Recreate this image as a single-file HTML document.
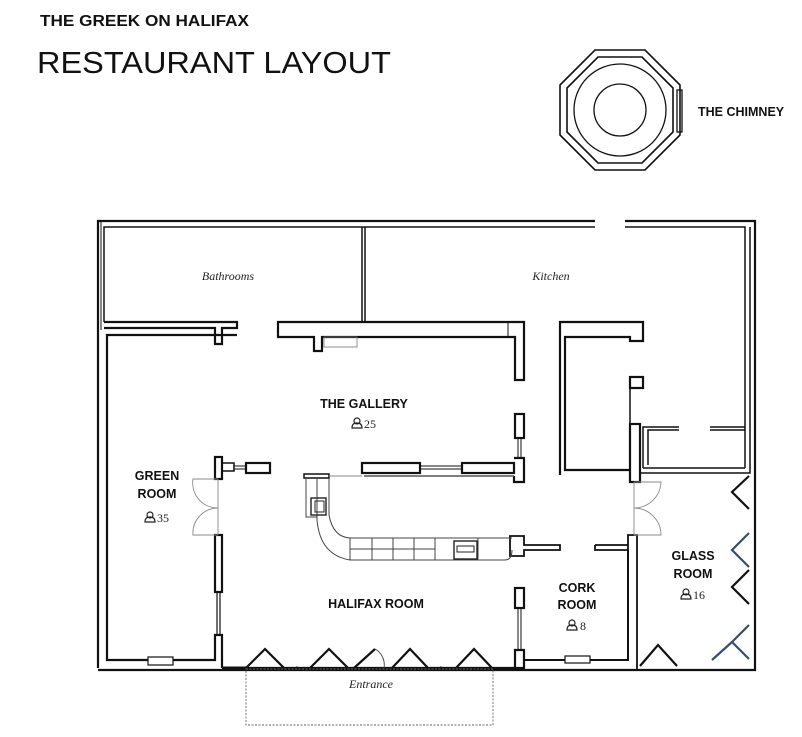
<!DOCTYPE html>
<html><head><meta charset="utf-8"><style>
html,body{margin:0;padding:0;background:#fff;width:802px;height:737px;overflow:hidden}
svg{display:block}
.b{font-family:"Liberation Sans",sans-serif;font-weight:bold;fill:#111}
.i{font-family:"Liberation Serif",serif;font-style:italic;fill:#222;font-size:12px}
.n{font-family:"Liberation Serif",serif;fill:#222;font-size:12px}
</style></head><body>
<svg width="802" height="737" viewBox="0 0 802 737" xmlns="http://www.w3.org/2000/svg">
<defs>
<g id="p"><circle cx="0" cy="-3" r="3" fill="none" stroke="#222" stroke-width="1.2"/><path d="M-5,4 Q-5,-1 0,-1 Q5,-1 5,4 Z" fill="none" stroke="#222" stroke-width="1.2"/></g>
</defs>
<text x="40" y="26" class="b" font-size="15.5" textLength="209" lengthAdjust="spacingAndGlyphs">THE GREEK ON HALIFAX</text>
<text x="37" y="73" font-family="Liberation Sans,sans-serif" font-size="31" fill="#111" textLength="354" lengthAdjust="spacingAndGlyphs">RESTAURANT LAYOUT</text>

<!-- chimney -->
<g fill="none" stroke="#111" stroke-width="1.6">
<polygon points="595,50 645,50 680,85 680,135 645,170 595,170 560,135 560,85"/>
<polygon points="598,57 642,57 673,88 673,132 642,163 598,163 567,132 567,88"/>
<circle cx="620" cy="110" r="46" stroke-width="1.3"/>
<circle cx="620" cy="110" r="26" stroke-width="1.3"/>
<rect x="677" y="90" width="5" height="42" stroke-width="1.3"/>
</g>
<text x="698" y="116" class="b" font-size="12.5">THE CHIMNEY</text>

<g fill="none" stroke="#111" stroke-width="2.2">
<!-- outer -->
<path d="M98,668 V221 H595"/>
<path d="M625,221 H755 V670 H98"/>
<path d="M104,322 V227 H595" stroke-width="1.5"/>
<path d="M625,227 H745 V468" stroke-width="1.5"/>
<line x1="101" y1="222" x2="101" y2="330" stroke-width="1"/>
<!-- bathroom partition -->
<line x1="362" y1="227" x2="362" y2="322" stroke-width="1.5"/>
<line x1="365" y1="227" x2="365" y2="322" stroke-width="1.5"/>
<!-- bathroom bottom wall -->
<path d="M104,322 H237 V328 H222 V344 H215 V328 H104"/>
<!-- gallery top wall -->
<path d="M278,322 H524 V380 H515 V337 H322 V351 H314 V337 H278 Z"/>
<line x1="508" y1="322" x2="508" y2="337" stroke-width="1"/>
<rect x="324" y="337" width="33" height="10" stroke-width="0.8" stroke="#777"/>
<!-- left room inner -->
<path d="M237,335 H107 V660 H148 M173,660 H215 V635 H222 V668"/>
<rect x="148" y="657" width="25" height="8" stroke-width="1.2"/>
<!-- green room right -->
<rect x="215" y="457" width="7" height="22"/>
<rect x="222" y="463" width="12" height="8" stroke-width="1.5"/>
<rect x="246" y="463" width="24" height="10"/>
<line x1="234" y1="466" x2="246" y2="466" stroke-width="1"/><line x1="234" y1="469" x2="246" y2="469" stroke-width="1"/>
<rect x="215" y="535" width="7" height="57"/>
<line x1="217" y1="592" x2="217" y2="635" stroke-width="1.2"/><line x1="220" y1="592" x2="220" y2="635" stroke-width="1.2"/>
<!-- bar top windows -->
<rect x="362" y="463" width="58" height="10"/>
<rect x="462" y="463" width="52" height="10"/>
<line x1="420" y1="466" x2="462" y2="466" stroke-width="1"/><line x1="420" y1="469" x2="462" y2="469" stroke-width="1"/>
<path d="M514,458 H524 V482 H514 V476"/>
<rect x="515" y="414" width="9" height="24"/>
<line x1="518" y1="438" x2="518" y2="458" stroke-width="1"/><line x1="521" y1="438" x2="521" y2="458" stroke-width="1"/>
<rect x="304" y="474" width="25" height="4" stroke-width="1.5"/>
<!-- right of bar -->
<path d="M510,536 H524 V545 H560 V550 H524 V556 H510 Z" stroke-width="1.8"/>
<path d="M595,545 H628 V535 H637 V670 M628,545 V550 M595,545 V550 H628" stroke-width="1.8"/>
<path d="M628,550 V660 H590 M565,660 H524 V650" stroke-width="2"/>
<rect x="565" y="656" width="25" height="7" stroke-width="1.2"/>
<rect x="515" y="588" width="9" height="20"/>
<line x1="518" y1="608" x2="518" y2="650" stroke-width="1"/><line x1="521" y1="608" x2="521" y2="650" stroke-width="1"/>
<path d="M515,650 H524 V668 H515 Z"/>
<!-- kitchen -->
<path d="M560,475 V322 H643 V341 H630 V337 H565 V470 H630"/>
<rect x="630" y="377" width="13" height="11"/>
<line x1="630" y1="388" x2="630" y2="424" stroke-width="1.5"/>
<rect x="630" y="424" width="10" height="58"/>
<path d="M643,468 V427 H679 M710,427 H745 M643,468 H745 M648,465 V430 H679 M710,430 H745" stroke-width="1.5"/>
<path d="M640,473 H750 V227" stroke-width="1.5"/>
<!-- bottom-wall segments -->
<line x1="222" y1="668" x2="246" y2="668" stroke-width="3"/>
</g>

<!-- doors thin -->
<g fill="none" stroke="#888" stroke-width="0.9">
<line x1="218" y1="479" x2="218" y2="535"/>
<path d="M218,479 H193 A25,25 0 0 0 218,508 A25,25 0 0 0 193,535 H218"/>
<line x1="634" y1="482" x2="634" y2="535"/>
<path d="M634,482 H661 A27,27 0 0 1 634,508 A27,27 0 0 1 661,535 H634"/>
<line x1="329" y1="476" x2="362" y2="476"/>
<line x1="364" y1="476" x2="514" y2="476" stroke="#555" stroke-width="1.5"/>
</g>

<!-- bar counter -->
<g fill="none" stroke="#444" stroke-width="1">
<path d="M306,478 V517 H317"/>
<path d="M317,478 V520 Q320,555 350,560 H505 Q512,560 512,550"/>
<path d="M329,478 V515 Q333,537 350,538 H512"/>
<line x1="350" y1="538" x2="350" y2="560"/>
<line x1="372" y1="538" x2="372" y2="560"/><line x1="393" y1="538" x2="393" y2="560"/>
<line x1="414" y1="538" x2="414" y2="560"/><line x1="435" y1="538" x2="435" y2="560"/>
<line x1="350" y1="549" x2="435" y2="549"/>
<line x1="478" y1="538" x2="478" y2="560"/>
</g>
<rect x="311" y="498" width="15" height="17" fill="none" stroke="#222" stroke-width="1.4"/>
<rect x="315" y="501" width="9" height="11" fill="none" stroke="#222" stroke-width="1"/>
<rect x="454" y="541" width="23" height="18" fill="none" stroke="#222" stroke-width="1.4"/>
<rect x="457" y="546" width="17" height="6" fill="none" stroke="#222" stroke-width="1"/>

<!-- entrance bifold doors -->
<g fill="none" stroke="#111" stroke-width="2.2">
<path d="M246,668 L265,649 L284,668"/>
<path d="M310,668 L329,649 L348,668"/>
<path d="M392,668 L410,649 L428,668"/>
<path d="M456,668 L474,649 L492,668"/>
<path d="M354,668 L375,649" />
<line x1="246" y1="668" x2="515" y2="668"/>
</g>
<path d="M375,649 A18,18 0 0 1 384,668" fill="none" stroke="#444" stroke-width="0.9"/>
<circle cx="297" cy="668" r="1.5" fill="#111"/><circle cx="441" cy="668" r="1.5" fill="#111"/>
<rect x="246" y="669" width="247" height="56" fill="none" stroke="#666" stroke-width="0.9" stroke-dasharray="2,1.5"/>

<!-- glass room chevrons -->
<g fill="none" stroke-width="2.2">
<path d="M749,476 L732,492 L749,509" stroke="#111"/>
<path d="M749,533 L732,550 L749,567" stroke="#35506a"/>
<path d="M749,570 L732,587 L749,604" stroke="#111"/>
<path d="M749,625 L732,642 L749,659" stroke="#35506a"/>
<path d="M732,642 L712,660" stroke="#35506a"/>
<path d="M640,666 L658,645 L677,666" stroke="#111"/>
</g>

<!-- labels -->
<text x="228" y="280" class="i" text-anchor="middle">Bathrooms</text>
<text x="551" y="280" class="i" text-anchor="middle">Kitchen</text>
<text x="364" y="408" class="b" font-size="12.5" text-anchor="middle">THE GALLERY</text>
<use href="#p" x="357" y="424"/><text x="364" y="428" class="n">25</text>
<text x="157" y="480" class="b" font-size="12.5" text-anchor="middle">GREEN</text>
<text x="157" y="498" class="b" font-size="12.5" text-anchor="middle">ROOM</text>
<use href="#p" x="150" y="518"/><text x="157" y="522" class="n">35</text>
<text x="376" y="608" class="b" font-size="12.5" text-anchor="middle">HALIFAX ROOM</text>
<text x="577" y="592" class="b" font-size="12.5" text-anchor="middle">CORK</text>
<text x="577" y="609" class="b" font-size="12.5" text-anchor="middle">ROOM</text>
<use href="#p" x="572" y="626"/><text x="580" y="630" class="n">8</text>
<text x="693" y="560" class="b" font-size="12.5" text-anchor="middle">GLASS</text>
<text x="693" y="578" class="b" font-size="12.5" text-anchor="middle">ROOM</text>
<use href="#p" x="686" y="595"/><text x="693" y="599" class="n">16</text>
<text x="371" y="688" class="i" text-anchor="middle">Entrance</text>
</svg>
</body></html>
